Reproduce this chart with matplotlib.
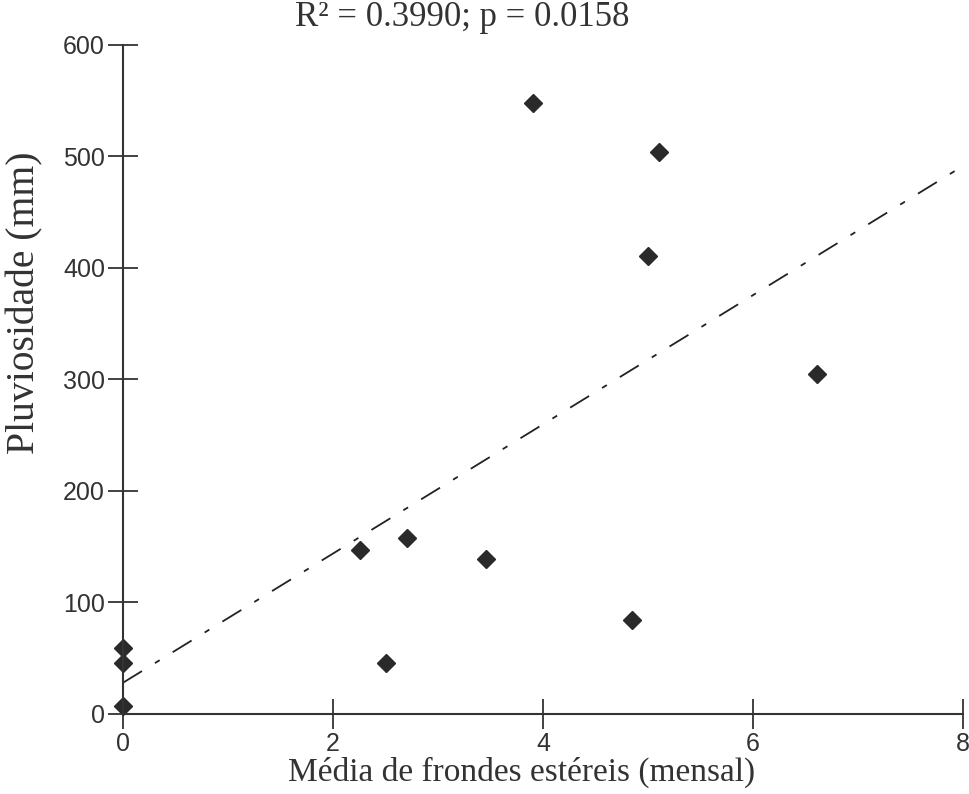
import matplotlib
matplotlib.use("Agg")
import matplotlib.pyplot as plt

matplotlib.rcParams['lines.scale_dashes'] = False

# monthly mean of sterile fronds vs rainfall
fronds = [0.0, 0.0, 0.0, 2.26, 2.5, 2.7, 3.46, 3.9, 4.85, 5.0, 5.1, 6.61]
rain = [7, 46, 59, 147, 46, 158, 139, 548, 84, 411, 504, 305]

# regression line end points (as drawn)
trend_x = [0.0, 7.94]
trend_y = [28, 488]

title = "R² = 0.3990; p = 0.0158"
xlabel = "Média de frondes estéreis (mensal)"
ylabel = "Pluviosidade (mm)"
xticks = [0, 2, 4, 6, 8]
yticks = [0, 100, 200, 300, 400, 500, 600]

fig = plt.figure(figsize=(9.7, 7.94), dpi=100)
ax = fig.add_axes([0.1268, 0.1008, 0.866, 0.8426])

ax.plot(trend_x, trend_y, color="#222222", linewidth=1.3,
        dashes=(16, 11, 4, 11))
ax.plot(fronds, rain, linestyle="none", marker="D", markersize=9,
        color="#2a2a2a", clip_on=False)

ax.set_xlim(0, 8)
ax.set_ylim(0, 600)
ax.set_xticks(xticks)
ax.set_yticks(yticks)
ax.spines['top'].set_visible(False)
ax.spines['right'].set_visible(False)
for s in ['left', 'bottom']:
    ax.spines[s].set_color("#333333")
    ax.spines[s].set_linewidth(1.5)
ax.tick_params(direction='inout', length=22, width=1.3, color="#333333",
               labelsize=18, labelcolor="#333333", pad=2)
for lab in ax.get_xticklabels() + ax.get_yticklabels():
    lab.set_family("Liberation Sans")

# labels are not centred on the axes in the original, place them by hand
ax.set_xlabel(xlabel, family="Liberation Serif", fontsize=24, color="#333333")
ax.xaxis.set_label_coords(0.474, -0.088)
ax.xaxis.label.set_va('center')
ax.set_ylabel(ylabel, family="Liberation Serif", fontsize=28.5, color="#333333")
ax.yaxis.set_label_coords(-0.117, 0.614)
ax.yaxis.label.set_va('center')
fig.text(0.477, 0.978, title, family="Liberation Serif", fontsize=25,
         color="#333333", ha='center', va='center')

fig.savefig("out.png", dpi=100)
